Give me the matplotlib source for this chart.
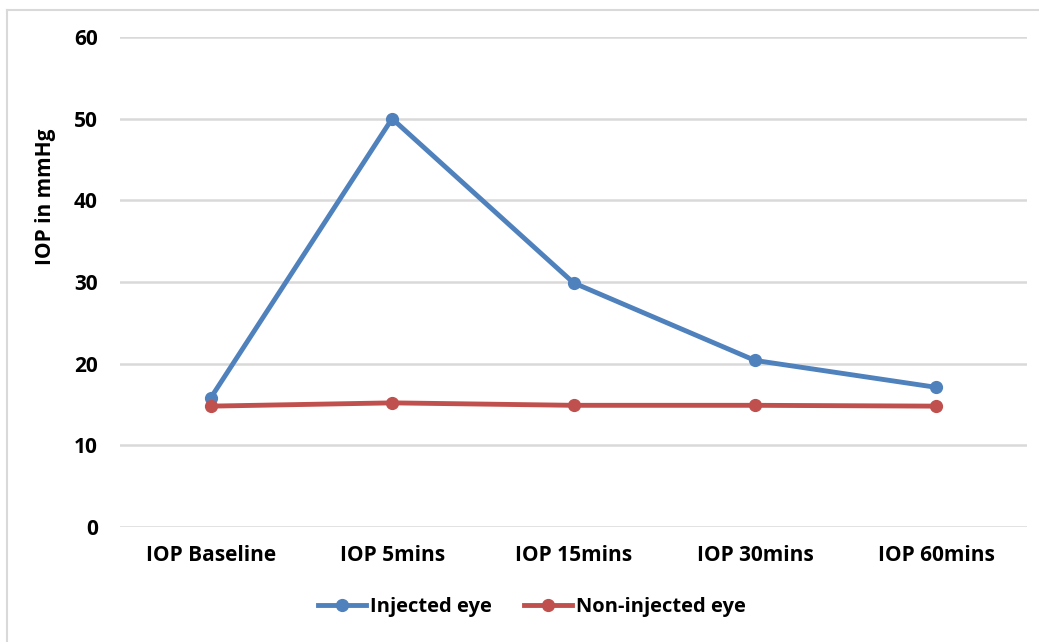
import matplotlib
matplotlib.use("Agg")
import matplotlib.pyplot as plt
from matplotlib.lines import Line2D

# values
time_points = ["IOP Baseline", "IOP 5mins", "IOP 15mins", "IOP 30mins", "IOP 60mins"]
injected_eye = [15.8, 50.0, 29.9, 20.4, 17.1]
non_injected_eye = [14.8, 15.2, 14.9, 14.9, 14.8]

blue = "#4f81bd"
red = "#c0504d"
grid_col = "#d9d9d9"
fs = 15

plt.rcParams['font.family'] = ['Open Sans', 'DejaVu Sans']
plt.rcParams['font.weight'] = 'bold'

W, H = 1039, 642
fig = plt.figure(figsize=(W / 100, H / 100), dpi=100)
ax = fig.add_axes([120 / W, 1 - 527 / H, (1027 - 120) / W, (527 - 37) / H])

x = list(range(len(time_points)))
ax.plot(x, injected_eye, color=blue, lw=3.5, marker='o', ms=8.5, label="Injected eye", zorder=3)
ax.plot(x, non_injected_eye, color=red, lw=3.5, marker='o', ms=8.5, label="Non-injected eye", zorder=3)

ax.set_xlim(-0.5, len(time_points) - 0.5)
ax.set_ylim(0, 60)
ax.set_yticks(range(0, 61, 10))
ax.set_xticks(x)
ax.set_xticklabels(time_points)
ax.yaxis.grid(True, color=grid_col, lw=1.8)
ax.set_axisbelow(True)
for s in ax.spines.values():
    s.set_visible(False)
ax.tick_params(axis='both', length=0, labelsize=fs, colors='black')
ax.tick_params(axis='y', pad=16)
ax.tick_params(axis='x', pad=13)
for lbl in ax.get_xticklabels() + ax.get_yticklabels():
    lbl.set_fontweight('bold')

fig.text(45 / W, 1 - 197 / H, "IOP in mmHg", rotation=90, ha='center', va='center',
         fontsize=fs, fontweight='bold')

ax.legend(loc='center', bbox_to_anchor=(532 / W, 1 - 607 / H), bbox_transform=fig.transFigure,
          ncol=2, frameon=False, handlelength=2.4, columnspacing=1.6,
          handletextpad=0.2, prop={'weight': 'bold', 'size': 14.5})

# chart border (only top and left show in the reference)
fig.add_artist(Line2D([7 / W, 7 / W], [0, 1 - 10 / H], transform=fig.transFigure, color=grid_col, lw=1.5))
fig.add_artist(Line2D([7 / W, 1], [1 - 10 / H, 1 - 10 / H], transform=fig.transFigure, color=grid_col, lw=1.5))

fig.savefig("out.png", dpi=100, facecolor='white')
